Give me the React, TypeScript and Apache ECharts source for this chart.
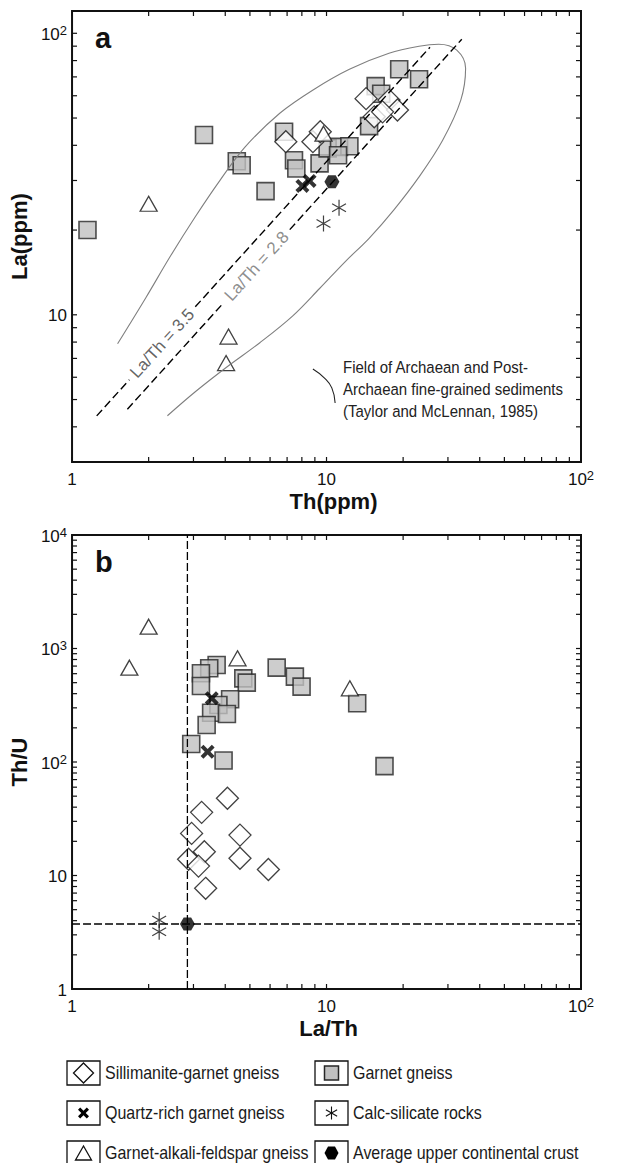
import React, { useEffect, useRef } from 'react';
import * as echarts from 'echarts';

const FONT = "'Liberation Sans', Arial, Helvetica, sans-serif";

// ---------------- Panel a : Th (ppm) vs La (ppm) ----------------
const garnetGneissA: number[][] = [
  [1.15, 20.0], [3.3, 43.5], [4.44, 35.1], [4.64, 34.0], [5.76, 27.5], [6.81, 44.7],
  [7.45, 35.4], [7.61, 33.1], [9.39, 34.5], [10.1, 39.0], [11.2, 39.5], [12.3, 39.7],
  [11.1, 36.9], [15.6, 64.9], [16.4, 61.0], [14.7, 46.8], [19.3, 74.5], [23.1, 68.7],
];
const sillimaniteA: number[][] = [
  [6.92, 41.2], [8.84, 41.2], [9.45, 44.7], [14.3, 58.6], [17.6, 57.9], [19.0, 53.4],
  [15.4, 50.5], [16.6, 52.6],
];
const feldsparA: number[][] = [[2.0, 24.8], [4.12, 8.37], [4.03, 6.74], [9.73, 44.0]];
const quartzA: number[][] = [[8.04, 28.7], [8.58, 29.9]];
const calcA: number[][] = [[11.2, 24.0], [9.73, 21.1]];
const uccA: number[][] = [[10.5, 29.7]];

// Field of Archaean and Post-Archaean fine-grained sediments (outline, Th, La)
const fieldOutline: number[][] = [
  [1.51, 7.89], [1.95, 11.5], [2.44, 16.2], [3.05, 22.3], [3.82, 30.1], [4.78, 39.4],
  [6.55, 52.0], [8.82, 62.8], [12.3, 74.5], [17.6, 84.9], [23.1, 89.9], [27.6, 91.4],
  [32.5, 87.1], [35.2, 75.1], [33.7, 57.9], [28.6, 41.7], [23.1, 30.9], [18.4, 23.6],
  [14.7, 18.7], [11.8, 15.4], [9.39, 12.4], [7.37, 9.92], [5.47, 7.96], [4.07, 6.54],
  [3.05, 5.33], [2.37, 4.38],
];
// leader from the annotation to the field outline
const fieldLeader: number[][] = [[8.84, 6.42], [9.82, 5.96], [10.49, 5.5], [10.81, 4.86]];

// La/Th reference lines: ratio, Th start, gap (for label), Th end
const ratioLines = [
  { ratio: 3.5, from: 1.25, gapFrom: 1.68, gapTo: 3.05, to: 25.5, label: 'La/Th = 3.5', color: '#3a3a3a' },
  { ratio: 2.8, from: 1.65, gapFrom: 3.94, gapTo: 7.17, to: 34.0, label: 'La/Th = 2.8', color: '#707070' },
];

// ---------------- Panel b : La/Th vs Th/U ----------------
const garnetGneissB: number[][] = [
  [3.70, 716], [3.46, 669], [3.21, 605], [3.21, 467], [4.71, 546], [4.86, 500],
  [4.18, 357], [3.76, 318], [3.52, 272], [4.06, 265], [3.38, 212], [2.94, 144],
  [3.94, 103], [6.37, 678], [7.51, 565], [7.98, 461], [13.2, 329], [16.9, 92],
];
const sillimaniteB: number[][] = [
  [4.08, 47.9], [3.23, 36.0], [2.95, 23.5], [4.57, 22.7], [3.31, 16.2], [2.87, 13.9],
  [4.57, 14.2], [3.14, 12.1], [5.91, 11.3], [3.35, 7.71],
];
const feldsparB: number[][] = [[2.0, 1556], [1.68, 678], [4.47, 820], [12.35, 446]];
const quartzB: number[][] = [[3.54, 364], [3.41, 123]];
const calcB: number[][] = [[2.2, 4.05], [2.2, 3.2]];
const uccLaTh = 2.84;
const uccThU = 3.74;
const uccB: number[][] = [[uccLaTh, uccThU]];

// ---------------- ticks ----------------
const ticksX = [1, 2, 3, 4, 5, 6, 7, 8, 9, 10, 20, 30, 40, 50, 60, 70, 80, 90, 100];
const ticksYA = [3, 4, 5, 6, 7, 8, 9, 10, 20, 30, 40, 50, 60, 70, 80, 90, 100];
const ticksYB = [
  1, 2, 3, 4, 5, 6, 7, 8, 9, 10, 20, 30, 40, 50, 60, 70, 80, 90,
  100, 200, 300, 400, 500, 600, 700, 800, 900, 1000, 2000, 3000, 4000, 5000, 6000, 7000, 8000, 9000, 10000,
];

const legendItems = [
  { name: 'Sillimanite-garnet gneiss', key: 'diamond', col: 0, row: 0 },
  { name: 'Quartz-rich garnet gneiss', key: 'cross', col: 0, row: 1 },
  { name: 'Garnet-alkali-feldspar gneiss', key: 'triangle', col: 0, row: 2 },
  { name: 'Garnet gneiss', key: 'square', col: 1, row: 0 },
  { name: 'Calc-silicate rocks', key: 'star', col: 1, row: 1 },
  { name: 'Average upper continental crust', key: 'hex', col: 1, row: 2 },
];

const CROSS_PATH = 'path://M0,2L2,0L5,3L8,0L10,2L7,5L10,8L8,10L5,7L2,10L0,8L3,5Z';
const STAR_PATH = 'path://M5,0L5,10M0.67,2.5L9.33,7.5M0.67,7.5L9.33,2.5';
const HEX_PATH = 'path://M0,6.5L3.75,0L11.25,0L15,6.5L11.25,13L3.75,13Z';

const symbolStyles: Record<string, any> = {
  square: { symbol: 'rect', symbolSize: 17, itemStyle: { color: '#c0c0c0', borderColor: '#262626', borderWidth: 1.6 } },
  diamond: { symbol: 'diamond', symbolSize: 22, itemStyle: { color: '#ffffff', borderColor: '#111', borderWidth: 1.3 } },
  triangle: { symbol: 'triangle', symbolSize: [17, 15], itemStyle: { color: '#ffffff', borderColor: '#111', borderWidth: 1.3 } },
  cross: { symbol: CROSS_PATH, symbolSize: 14, symbolKeepAspect: true, itemStyle: { color: '#000' } },
  star: { symbol: STAR_PATH, symbolSize: 16, symbolKeepAspect: true, itemStyle: { color: 'none', borderColor: '#111', borderWidth: 1.2 } },
  hex: { symbol: HEX_PATH, symbolSize: [15, 13], itemStyle: { color: '#000' } },
};

function scatter(name: string, key: string, data: number[][], gi: number) {
  return {
    type: 'scatter', name, xAxisIndex: gi, yAxisIndex: gi, data, silent: true,
    ...symbolStyles[key],
  };
}

function tickSeries(gi: number, axis: 'x' | 'y', values: number[], other: number) {
  const len = 5;
  return {
    type: 'custom', xAxisIndex: gi, yAxisIndex: gi, silent: true, clip: false, z: 10,
    data: values.map((v) => (axis === 'x' ? [v, other] : [other, v])),
    renderItem: (params: any, api: any) => {
      const cs = params.coordSys;
      const p = api.coord([api.value(0), api.value(1)]);
      const st = { stroke: '#111', lineWidth: 1.2 };
      if (axis === 'x') {
        const x = p[0];
        return {
          type: 'group', children: [
            { type: 'line', shape: { x1: x, y1: cs.y + cs.height, x2: x, y2: cs.y + cs.height - len }, style: st },
            { type: 'line', shape: { x1: x, y1: cs.y, x2: x, y2: cs.y + len }, style: st },
          ],
        };
      }
      const y = p[1];
      return {
        type: 'group', children: [
          { type: 'line', shape: { x1: cs.x, y1: y, x2: cs.x + len, y2: y }, style: st },
          { type: 'line', shape: { x1: cs.x + cs.width, y1: y, x2: cs.x + cs.width - len, y2: y }, style: st },
        ],
      };
    },
  };
}

const powLabel = (v: number) => {
  const e = Math.log10(v);
  const r = Math.round(e);
  if (Math.abs(e - r) > 1e-6) return '';
  if (r === 0) return '{n|1}';
  if (r === 1) return '{n|10}';
  return `{n|10}{s|${r}}`;
};
const richLab = {
  n: { fontSize: 17, fontFamily: FONT, color: '#111', lineHeight: 19, verticalAlign: 'bottom' },
  s: { fontSize: 13, fontFamily: FONT, color: '#111', lineHeight: 10, verticalAlign: 'top' },
};
const nameStyle = { fontSize: 22, fontWeight: 'bold', fontFamily: FONT, color: '#111' };

function logAxis(gi: number, min: number, max: number, name: string, isY: boolean, padLeft = 0) {
  return {
    gridIndex: gi, type: 'log', logBase: 10, min, max, name,
    nameLocation: 'middle', nameGap: isY ? 38 : 28, nameRotate: isY ? 90 : 0,
    nameTextStyle: { ...nameStyle, padding: [0, 0, 0, padLeft] },
    axisLine: { show: false }, axisTick: { show: false }, splitLine: { show: false },
    axisLabel: { formatter: powLabel, rich: richLab, margin: isY ? 5 : 7, fontFamily: FONT, color: '#111' },
  };
}

function legendSymbol(key: string, cx: number, cy: number): any[] {
  const dark = '#111';
  switch (key) {
    case 'diamond':
      return [{ type: 'polygon', shape: { points: [[cx, cy - 10], [cx + 10, cy], [cx, cy + 10], [cx - 10, cy]] }, style: { fill: '#fff', stroke: dark, lineWidth: 1.3 } }];
    case 'square':
      return [{ type: 'rect', shape: { x: cx - 7, y: cy - 7, width: 14, height: 14 }, style: { fill: '#c0c0c0', stroke: '#262626', lineWidth: 1.5 } }];
    case 'cross': {
      const pts = [[0, 2], [2, 0], [5, 3], [8, 0], [10, 2], [7, 5], [10, 8], [8, 10], [5, 7], [2, 10], [0, 8], [3, 5]]
        .map(([x, y]) => [cx + (x - 5) * 1.1, cy + (y - 5) * 1.1]);
      return [{ type: 'polygon', shape: { points: pts }, style: { fill: '#000' } }];
    }
    case 'star': {
      const r = 6.5;
      const out: any[] = [];
      [90, 30, 150].forEach((a) => {
        const dx = r * Math.cos((a * Math.PI) / 180);
        const dy = r * Math.sin((a * Math.PI) / 180);
        out.push({ type: 'line', shape: { x1: cx - dx, y1: cy - dy, x2: cx + dx, y2: cy + dy }, style: { stroke: dark, lineWidth: 1.1 } });
      });
      return out;
    }
    case 'triangle':
      return [{ type: 'polygon', shape: { points: [[cx, cy - 7], [cx + 8, cy + 7], [cx - 8, cy + 7]] }, style: { fill: '#fff', stroke: dark, lineWidth: 1.3 } }];
    case 'hex':
      return [{ type: 'polygon', shape: { points: [[cx - 7, cy], [cx - 3.5, cy - 6.5], [cx + 3.5, cy - 6.5], [cx + 7, cy], [cx + 3.5, cy + 6.5], [cx - 3.5, cy + 6.5]] }, style: { fill: '#000' } }];
    default:
      return [];
  }
}

function buildOption() {
  const series: any[] = [];

  // field outline & leader (panel a)
  series.push({
    type: 'line', xAxisIndex: 0, yAxisIndex: 0, data: fieldOutline, smooth: 0.35, symbol: 'none', silent: true,
    lineStyle: { color: '#7f7f7f', width: 1.1 },
  });
  series.push({
    type: 'line', xAxisIndex: 0, yAxisIndex: 0, data: fieldLeader, smooth: 0.5, symbol: 'none', silent: true,
    lineStyle: { color: '#222', width: 1.1 },
  });

  // ratio lines with gaps for labels
  ratioLines.forEach((rl) => {
    const segs = [[rl.from, rl.gapFrom], [rl.gapTo, rl.to]];
    segs.forEach(([a, b]) => {
      series.push({
        type: 'line', xAxisIndex: 0, yAxisIndex: 0, symbol: 'none', silent: true,
        data: [[a, a * rl.ratio], [b, b * rl.ratio]],
        lineStyle: { color: '#000', width: 1.4, type: [8, 4] },
      });
    });
    const mid = Math.sqrt(rl.gapFrom * rl.gapTo);
    series.push({
      type: 'scatter', xAxisIndex: 0, yAxisIndex: 0, silent: true, symbolSize: 1,
      itemStyle: { color: 'rgba(0,0,0,0)' },
      data: [[mid, mid * rl.ratio]],
      label: { show: true, position: 'inside', rotate: 47.8, formatter: rl.label, fontSize: 17, fontFamily: FONT, color: rl.color },
    });
  });

  // reference lines panel b
  series.push({
    type: 'line', xAxisIndex: 1, yAxisIndex: 1, symbol: 'none', silent: true,
    data: [[uccLaTh, 1], [uccLaTh, 10000]], lineStyle: { color: '#000', width: 1.3, type: [8, 3] },
  });
  series.push({
    type: 'line', xAxisIndex: 1, yAxisIndex: 1, symbol: 'none', silent: true,
    data: [[1, uccThU], [100, uccThU]], lineStyle: { color: '#000', width: 1.3, type: [8, 3] },
  });

  // points
  series.push(scatter('Garnet gneiss', 'square', garnetGneissA, 0));
  series.push(scatter('Sillimanite-garnet gneiss', 'diamond', sillimaniteA, 0));
  series.push(scatter('Garnet-alkali-feldspar gneiss', 'triangle', feldsparA, 0));
  series.push(scatter('Quartz-rich garnet gneiss', 'cross', quartzA, 0));
  series.push(scatter('Calc-silicate rocks', 'star', calcA, 0));
  series.push(scatter('Average upper continental crust', 'hex', uccA, 0));

  series.push(scatter('Garnet gneiss', 'square', garnetGneissB, 1));
  series.push(scatter('Sillimanite-garnet gneiss', 'diamond', sillimaniteB, 1));
  series.push(scatter('Garnet-alkali-feldspar gneiss', 'triangle', feldsparB, 1));
  series.push(scatter('Quartz-rich garnet gneiss', 'cross', quartzB, 1));
  series.push(scatter('Calc-silicate rocks', 'star', calcB, 1));
  series.push(scatter('Average upper continental crust', 'hex', uccB, 1));

  // ticks
  series.push(tickSeries(0, 'x', ticksX, 3));
  series.push(tickSeries(0, 'y', ticksYA, 1));
  series.push(tickSeries(1, 'x', ticksX, 1));
  series.push(tickSeries(1, 'y', ticksYB, 1));

  // graphic: panel letters, annotation, legend
  const graphic: any[] = [
    { type: 'text', x: 95, y: 38, style: { text: 'a', fontSize: 29, fontWeight: 'bold', fontFamily: FONT, fill: '#111', align: 'left', verticalAlign: 'middle' } },
    { type: 'text', x: 95, y: 562, style: { text: 'b', fontSize: 29, fontWeight: 'bold', fontFamily: FONT, fill: '#111', align: 'left', verticalAlign: 'middle' } },
    {
      type: 'text', x: 343, y: 388.5, scaleY: 1.15,
      style: {
        text: 'Field of Archaean and Post-\nArchaean fine-grained sediments\n(Taylor and McLennan, 1985)',
        fontSize: 15, lineHeight: 18.9, fontFamily: FONT, fill: '#222', align: 'left', verticalAlign: 'middle',
      },
    },
  ];
  const colBox = [67, 315];
  const rowY = [1073, 1113, 1153];
  legendItems.forEach((it) => {
    const bx = colBox[it.col];
    const cy = rowY[it.row];
    graphic.push({ type: 'rect', shape: { x: bx, y: cy - 12, width: 33, height: 24 }, style: { fill: '#fff', stroke: '#111', lineWidth: 1.3 } });
    legendSymbol(it.key, bx + 16.5, cy).forEach((g) => graphic.push(g));
    graphic.push({ type: 'text', x: bx + 38, y: cy, scaleY: 1.15, style: { text: it.name, fontSize: 16, fontFamily: FONT, fill: '#1a1a1a', align: 'left', verticalAlign: 'middle' } });
  });

  return {
    animation: false,
    backgroundColor: '#ffffff',
    grid: [
      { left: 71, top: 11, width: 510, height: 451, show: true, borderColor: '#111', borderWidth: 2, backgroundColor: 'transparent' },
      { left: 70, top: 535, width: 511, height: 454, show: true, borderColor: '#111', borderWidth: 2, backgroundColor: 'transparent' },
    ],
    xAxis: [logAxis(0, 1, 100, 'Th(ppm)', false, 14), logAxis(1, 1, 100, 'La/Th', false, 4)],
    yAxis: [logAxis(0, 3, 120, 'La(ppm)', true), logAxis(1, 1, 10000, 'Th/U', true)],
    graphic,
    series,
  };
}

export default function App() {
  const ref = useRef<HTMLDivElement>(null);
  useEffect(() => {
    document.body.style.margin = '0';
    const chart = echarts.init(ref.current!, null, { renderer: 'svg' });
    chart.setOption(buildOption() as any);
    return () => chart.dispose();
  }, []);
  return <div ref={ref} style={{ width: 620, height: 1163 }} />;
}
